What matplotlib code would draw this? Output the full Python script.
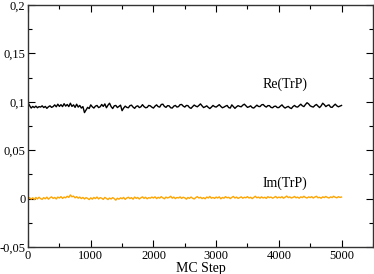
import matplotlib
matplotlib.use('Agg')
import matplotlib.pyplot as plt
from matplotlib.ticker import MultipleLocator, FuncFormatter
import numpy as np

# MC steps sampled every 25
steps = np.arange(0, 5001, 25)

re_trp = [
    0.0990, 0.0960, 0.0935, 0.0952, 0.0940, 0.0955, 0.0938, 0.0950, 0.0945, 0.0958,
    0.0940, 0.0952, 0.0932, 0.0948, 0.0958, 0.0942, 0.0950, 0.0968, 0.0948, 0.0975,
    0.0952, 0.0970, 0.0950, 0.0980, 0.0955, 0.0972, 0.0950, 0.0985, 0.0952, 0.0968,
    0.0942, 0.0975, 0.0945, 0.0962, 0.0935, 0.0950, 0.0888, 0.0915, 0.0942, 0.0930,
    0.0968, 0.0948, 0.0935, 0.0955, 0.0962, 0.0940, 0.0948, 0.0972, 0.0952, 0.0978,
    0.0938, 0.0965, 0.0985, 0.0950, 0.0930, 0.0958, 0.0962, 0.0940, 0.0952, 0.0965,
    0.0908, 0.0935, 0.0955, 0.0942, 0.0938, 0.0960, 0.0965, 0.0945, 0.0932, 0.0952,
    0.0958, 0.0940, 0.0948, 0.0970, 0.0950, 0.0938, 0.0942, 0.0962, 0.0958, 0.0944,
    0.0935, 0.0955, 0.0968, 0.0950, 0.0945, 0.0972, 0.0975, 0.0952, 0.0942, 0.0960,
    0.0958, 0.0938, 0.0935, 0.0955, 0.0962, 0.0945, 0.0950, 0.0970, 0.0972, 0.0955,
    0.0945, 0.0962, 0.0960, 0.0940, 0.0932, 0.0950, 0.0966, 0.0955, 0.0948, 0.0962,
    0.0978, 0.0958, 0.0940, 0.0948, 0.0958, 0.0942, 0.0930, 0.0945, 0.0962, 0.0950,
    0.0945, 0.0958, 0.0970, 0.0952, 0.0938, 0.0945, 0.0955, 0.0962, 0.0940, 0.0935,
    0.0968, 0.0950, 0.0932, 0.0948, 0.0960, 0.0952, 0.0948, 0.0965, 0.0975, 0.0958,
    0.0942, 0.0948, 0.0958, 0.0940, 0.0935, 0.0950, 0.0965, 0.0952, 0.0950, 0.0968,
    0.0972, 0.0955, 0.0945, 0.0960, 0.0960, 0.0942, 0.0938, 0.0952, 0.0955, 0.0940,
    0.0940, 0.0955, 0.0968, 0.0948, 0.0935, 0.0945, 0.0952, 0.0938, 0.0930, 0.0950,
    0.0962, 0.0948, 0.0945, 0.0960, 0.0975, 0.0958, 0.0950, 0.0972, 0.0990, 0.0978,
    0.0958, 0.0950, 0.0945, 0.0962, 0.0972, 0.0955, 0.0940, 0.0958, 0.0985, 0.0970,
    0.0950, 0.0962, 0.0968, 0.0945, 0.0942, 0.0960, 0.0975, 0.0958, 0.0948, 0.0955,
    0.0962,
]

im_trp = [
    0.0000, 0.0010, -0.0006, 0.0008, -0.0010, 0.0012, -0.0004, 0.0014, 0.0000, -0.0008,
    0.0010, -0.0002, 0.0015, -0.0006, 0.0008, 0.0018, 0.0002, 0.0012, -0.0004, 0.0016,
    0.0006, 0.0020, 0.0002, 0.0016, 0.0008, 0.0024, 0.0012, 0.0038, 0.0018, 0.0026,
    0.0008, 0.0020, 0.0004, 0.0016, 0.0000, 0.0012, -0.0004, 0.0010, 0.0002, -0.0010,
    0.0008, -0.0006, 0.0012, 0.0000, 0.0016, -0.0004, 0.0010, 0.0004, -0.0008, 0.0012,
    0.0002, -0.0010, 0.0006, -0.0004, 0.0010, 0.0000, -0.0016, 0.0004, -0.0006, 0.0008,
    -0.0002, 0.0012, -0.0008, 0.0006, 0.0014, 0.0000, 0.0010, -0.0006, 0.0016, 0.0002,
    0.0012, -0.0004, 0.0008, 0.0018, 0.0002, 0.0014, -0.0002, 0.0010, 0.0004, 0.0016,
    0.0006, 0.0018, 0.0000, 0.0014, 0.0004, 0.0020, 0.0008, -0.0002, 0.0016, 0.0006,
    0.0012, 0.0024, 0.0004, 0.0016, 0.0000, 0.0012, 0.0006, 0.0018, 0.0002, 0.0014,
    0.0008, -0.0006, 0.0012, 0.0002, 0.0016, 0.0004, -0.0004, 0.0010, 0.0020, 0.0006,
    0.0014, 0.0000, 0.0010, -0.0002, 0.0016, 0.0006, 0.0022, 0.0004, 0.0012, 0.0002,
    0.0016, 0.0006, 0.0018, -0.0002, 0.0012, 0.0004, 0.0020, 0.0008, 0.0014, 0.0000,
    0.0012, 0.0022, 0.0006, 0.0016, 0.0002, 0.0010, 0.0018, 0.0004, 0.0014, 0.0008,
    0.0020, 0.0006, 0.0014, 0.0000, 0.0012, 0.0024, 0.0008, 0.0016, 0.0004, 0.0018,
    0.0006, 0.0014, 0.0002, 0.0020, 0.0010, 0.0016, 0.0004, 0.0012, 0.0022, 0.0006,
    0.0016, 0.0008, 0.0020, 0.0004, 0.0014, 0.0026, 0.0010, 0.0018, 0.0006, 0.0012,
    0.0022, 0.0008, 0.0016, 0.0004, 0.0018, 0.0010, 0.0024, 0.0012, 0.0006, 0.0018,
    0.0010, 0.0020, 0.0006, 0.0016, 0.0024, 0.0008, 0.0014, 0.0004, 0.0018, 0.0010,
    0.0022, 0.0012, 0.0006, 0.0018, 0.0010, 0.0024, 0.0014, 0.0008, 0.0020, 0.0012,
    0.0016,
]

plt.rcParams['font.family'] = ['Liberation Serif', 'DejaVu Serif']

fig = plt.figure(figsize=(3.74, 2.74), dpi=100)
ax = fig.add_axes([0.075, 0.0985, 0.922, 0.8835])

ax.plot(steps, re_trp, color='black', lw=1.0)
ax.plot(steps, im_trp, color='#FFA500', lw=1.0)

ax.text(4100, 0.1185, 'Re(TrP)', ha='center', va='center', fontsize=10)
ax.text(4100, 0.0155, 'Im(TrP)', ha='center', va='center', fontsize=10)

ax.set_xlim(0, 5500)
ax.set_ylim(-0.05, 0.2)
ax.xaxis.set_major_locator(MultipleLocator(1000))
ax.xaxis.set_minor_locator(MultipleLocator(500))
ax.yaxis.set_major_locator(MultipleLocator(0.05))
ax.yaxis.set_minor_locator(MultipleLocator(0.025))


def comma_fmt(v, pos):
    s = ('%.2f' % v).rstrip('0').rstrip('.')
    if s == '-0':
        s = '0'
    return s.replace('.', ',')


ax.yaxis.set_major_formatter(FuncFormatter(comma_fmt))
ax.tick_params(which='both', direction='in', top=True, right=True, labelsize=9, pad=2)
ax.tick_params(which='major', length=5, width=0.8)
ax.tick_params(which='minor', length=3, width=0.8)
for sp in ax.spines.values():
    sp.set_linewidth(1.0)
    sp.set_color('#333333')

ax.set_xlabel('MC Step', fontsize=10, labelpad=0)

fig.savefig('out.png', dpi=100)
